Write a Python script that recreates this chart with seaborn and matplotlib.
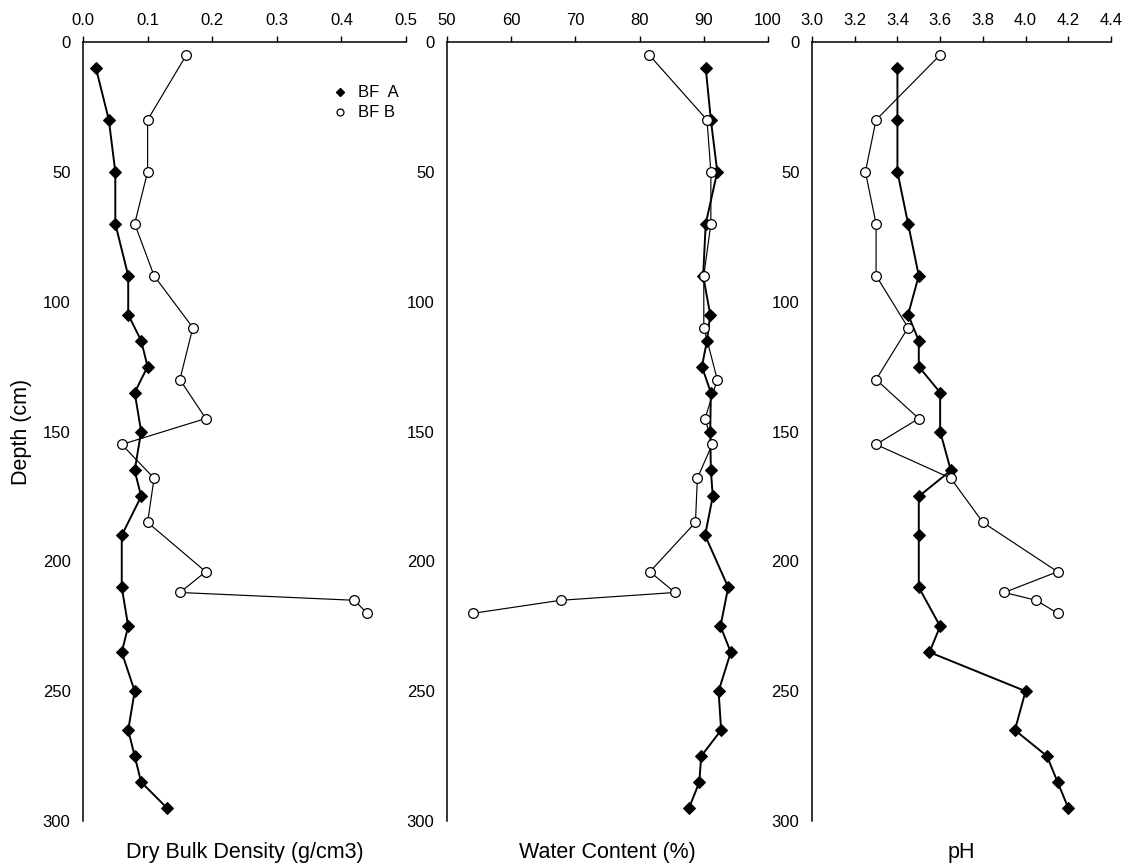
import matplotlib
matplotlib.use("Agg")
import matplotlib.pyplot as plt
from matplotlib.lines import Line2D
import numpy as np
import pandas as pd
import seaborn as sns

# ---- data ----
depth_a = [10, 30, 50, 70, 90, 105, 115, 125, 135, 150, 165, 175, 190, 210, 225, 235, 250, 265, 275, 285, 295]
bd_a = [0.02, 0.04, 0.05, 0.05, 0.07, 0.07, 0.09, 0.10, 0.08, 0.09, 0.08, 0.09, 0.06, 0.06, 0.07, 0.06, 0.08, 0.07, 0.08, 0.09, 0.13]
wc_a = [90.3, 91.1, 92.1, 90.3, 89.9, 91.0, 90.5, 89.7, 91.1, 91.0, 91.1, 91.4, 90.2, 93.8, 92.6, 94.2, 92.3, 92.7, 89.6, 89.3, 87.7]
ph_a = [3.4, 3.4, 3.4, 3.45, 3.5, 3.45, 3.5, 3.5, 3.6, 3.6, 3.65, 3.5, 3.5, 3.5, 3.6, 3.55, 4.0, 3.95, 4.1, 4.15, 4.2]

depth_b = [5, 30, 50, 70, 90, 110, 130, 145, 155, 168, 185, 204, 212, 215, 220]
bd_b = [0.16, 0.10, 0.10, 0.08, 0.11, 0.17, 0.15, 0.19, 0.06, 0.11, 0.10, 0.19, 0.15, 0.42, 0.44]
wc_b = [81.5, 90.5, 91.1, 91.1, 90.0, 90.0, 92.1, 90.2, 91.3, 89.0, 88.7, 81.6, 85.5, 67.7, 54.1]
ph_b = [3.6, 3.3, 3.25, 3.3, 3.3, 3.45, 3.3, 3.5, 3.3, 3.65, 3.8, 4.15, 3.9, 4.05, 4.15]

series_labels = ["BF  A", "BF B"]
xlabels = ["Dry Bulk Density (g/cm3)", "Water Content (%)", "pH"]
xticks_list = [[0.0, 0.1, 0.2, 0.3, 0.4, 0.5],
               [50, 60, 70, 80, 90, 100],
               [3.0, 3.2, 3.4, 3.6, 3.8, 4.0, 4.2, 4.4]]
xtick_fmt = ["{:.1f}", "{:.0f}", "{:.1f}"]
yticks = [0, 50, 100, 150, 200, 250, 300]
ylabel = "Depth (cm)"

sns.set_style("white")
plt.rcParams["font.family"] = ["Liberation Sans", "DejaVu Sans"]
plt.rcParams["text.color"] = "black"
plt.rcParams["axes.labelcolor"] = "black"
plt.rcParams["xtick.color"] = "black"
plt.rcParams["ytick.color"] = "black"
plt.rcParams["xtick.labelcolor"] = "black"
plt.rcParams["ytick.labelcolor"] = "black"

W, H = 1125, 866
fig = plt.figure(figsize=(W / 100, H / 100), dpi=100)

# axes boxes in pixels: left, right
boxes = [(83, 406), (447, 768), (812, 1111)]
top_px, bot_px = 42, 821

vals_a = [bd_a, wc_a, ph_a]
vals_b = [bd_b, wc_b, ph_b]

axes = []
for i, (l, r) in enumerate(boxes):
    ax = fig.add_axes([l / W, 1 - bot_px / H, (r - l) / W, (bot_px - top_px) / H])
    axes.append(ax)
    dfa = pd.DataFrame({"x": vals_a[i], "depth": depth_a})
    dfb = pd.DataFrame({"x": vals_b[i], "depth": depth_b})
    sns.lineplot(data=dfa, x="x", y="depth", sort=False, estimator=None, ax=ax,
                 color="black", lw=1.4, marker="D", markersize=6.3,
                 markerfacecolor="black", markeredgecolor="black")
    sns.lineplot(data=dfb, x="x", y="depth", sort=False, estimator=None, ax=ax,
                 color="black", lw=0.85, marker="o", markersize=7,
                 markerfacecolor="white", markeredgecolor="black", markeredgewidth=0.9)
    ticks = xticks_list[i]
    ax.set_xlim(ticks[0], ticks[-1])
    ax.set_ylim(300, 0)
    ax.xaxis.tick_top()
    ax.set_xticks(ticks)
    ax.set_xticklabels([xtick_fmt[i].format(t) for t in ticks])
    ax.set_yticks(yticks)
    ax.set_yticklabels([str(t) for t in yticks])
    ax.xaxis.set_label_position("bottom")
    ax.set_xlabel(xlabels[i], fontsize=15.5, labelpad=15, color="black")
    ax.set_ylabel("")
    for s in ["right", "bottom"]:
        ax.spines[s].set_visible(False)
    for s in ["left", "top"]:
        ax.spines[s].set_color("black")
        ax.spines[s].set_linewidth(1.1)
    ax.tick_params(axis="both", which="major", direction="out", length=4, width=1,
                   color="black", labelcolor="black", labelsize=12, pad=5)
    ax.tick_params(axis="x", pad=6)
    ax.grid(False)
    ax.set_facecolor("white")

axes[0].set_ylabel(ylabel, fontsize=15.5, labelpad=8, color="black")

handles = [Line2D([], [], ls="none", marker="D", markersize=4, color="black"),
           Line2D([], [], ls="none", marker="o", markersize=5, markerfacecolor="white",
                  markeredgecolor="black", markeredgewidth=0.9)]
leg = axes[0].legend(handles, series_labels, loc="upper left",
                     bbox_to_anchor=(323 / W, 1 - 77 / H), bbox_transform=fig.transFigure,
                     frameon=False, fontsize=12, handlelength=1.0, handletextpad=0.6,
                     labelspacing=0.3, borderpad=0)
for t in leg.get_texts():
    t.set_color("black")

fig.savefig("out.png", dpi=100)
